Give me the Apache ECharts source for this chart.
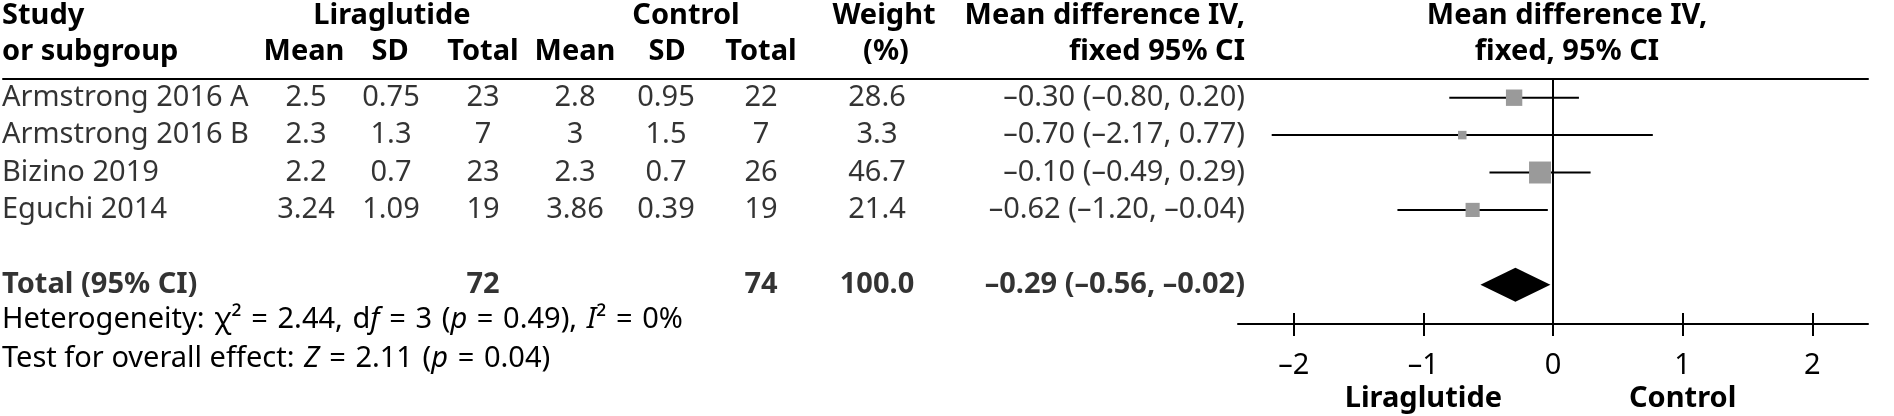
<!DOCTYPE html>
<html>
<head>
<meta charset="utf-8">
<script src="https://cdn.jsdelivr.net/npm/echarts@6/dist/echarts.min.js"></script>
<style>
html,body{margin:0;padding:0;background:#ffffff;}
#chart{width:1894px;height:416px;}
</style>
</head>
<body>
<div id="chart"></div>
<script>
// ---------------- DATA ----------------
const studies   = ['Armstrong 2016 A', 'Armstrong 2016 B', 'Bizino 2019', 'Eguchi 2014'];
const liraMean  = [2.5, 2.3, 2.2, 3.24];
const liraSD    = [0.75, 1.3, 0.7, 1.09];
const liraN     = [23, 7, 23, 19];
const ctrlMean  = [2.8, 3, 2.3, 3.86];
const ctrlSD    = [0.95, 1.5, 0.7, 0.39];
const ctrlN     = [22, 7, 26, 19];
const weights   = [28.6, 3.3, 46.7, 21.4];
const meanDiff  = [-0.30, -0.70, -0.10, -0.62];
const ciLow     = [-0.80, -2.17, -0.49, -1.20];
const ciHigh    = [0.20, 0.77, 0.29, -0.04];
const totalName = 'Total (95% CI)';
const totalLiraN = 72;
const totalCtrlN = 74;
const totalWeight = 100.0;
const pooledMD  = -0.29;
const pooledLow = -0.56;
const pooledHigh = -0.02;
const xTicks    = [-2, -1, 0, 1, 2];
const favourTicks = [-1, 1];
const favourLabels = ['Liraglutide', 'Control'];
const hetChi2 = 2.44, hetDf = 3, hetP = 0.49, hetI2 = 0;
const overallZ = 2.11, overallP = 0.04;

// ---------------- LAYOUT / STYLE ----------------
const FONT = '"Noto Sans", "DejaVu Sans", sans-serif';
const FS = 29;
const INK = '#000000';
const SQUARE = '#9a9a9a';
const TOP = 79, AXIS_Y = 324;
const Y_MIN = -0.5, Y_MAX = 6.05;
const TOTAL_ROW = 5;
const PLOT_L = 1238, PLOT_R = 1868;
const X_MIN = -2.43, X_MAX = 2.43;
const TABLE_L = 3, TABLE_R = 1262;
const COL = { study: 2, liraMean: 306, liraSD: 391, liraN: 483, ctrlMean: 575, ctrlSD: 666, ctrlN: 761, weight: 877, ci: 1245 };
const HEAD1_Y = 16, HEAD2_Y = 52, HET_Y = 320, TEST_Y = 359;
const FOREST_HEAD_X = 1567;
const SP = '\u2004'; // slightly wider word space used in the footnotes

const dash = v => (v < 0 ? '\u2013' : '') + Math.abs(v);
const fmt2 = v => (v < 0 ? '\u2013' : '') + Math.abs(v).toFixed(2);
const ciText = (m, lo, hi) => fmt2(m) + ' (' + fmt2(lo) + ', ' + fmt2(hi) + ')';

const studyRows = studies.map((_, i) => i);

function textSeries(x, align, texts, rows, bold) {
  return {
    type: 'scatter', xAxisIndex: 0, yAxisIndex: 0, silent: true,
    symbolSize: 1, itemStyle: { color: 'rgba(0,0,0,0)' }, clip: false,
    data: texts.map((t, i) => ({ name: String(t), value: [x, rows[i]] })),
    label: {
      show: true, position: 'inside', formatter: '{b}', align: align, verticalAlign: 'middle',
      color: INK, fontFamily: FONT, fontSize: FS, fontWeight: bold ? 'bold' : 'normal'
    },
    animation: false
  };
}

const series = [
  textSeries(COL.study, 'left', studies, studyRows, false),
  textSeries(COL.liraMean, 'center', liraMean, studyRows, false),
  textSeries(COL.liraSD, 'center', liraSD, studyRows, false),
  textSeries(COL.liraN, 'center', liraN, studyRows, false),
  textSeries(COL.ctrlMean, 'center', ctrlMean, studyRows, false),
  textSeries(COL.ctrlSD, 'center', ctrlSD, studyRows, false),
  textSeries(COL.ctrlN, 'center', ctrlN, studyRows, false),
  textSeries(COL.weight, 'center', weights.map(w => w.toFixed(1)), studyRows, false),
  textSeries(COL.ci, 'right', meanDiff.map((m, i) => ciText(m, ciLow[i], ciHigh[i])), studyRows, false),
  textSeries(COL.study, 'left', [totalName], [TOTAL_ROW], true),
  textSeries(COL.liraN, 'center', [totalLiraN], [TOTAL_ROW], true),
  textSeries(COL.ctrlN, 'center', [totalCtrlN], [TOTAL_ROW], true),
  textSeries(COL.weight, 'center', [totalWeight.toFixed(1)], [TOTAL_ROW], true),
  textSeries(COL.ci, 'right', [ciText(pooledMD, pooledLow, pooledHigh)], [TOTAL_ROW], true),
  // study CIs and weight squares
  {
    type: 'custom', xAxisIndex: 1, yAxisIndex: 1, z: 2, silent: true, animation: false,
    data: meanDiff.map((m, i) => [m, ciLow[i], ciHigh[i], weights[i], i]),
    encode: { x: [0, 1, 2], y: 4 },
    renderItem: function (params, api) {
      const row = api.value(4);
      const pLo = api.coord([api.value(1), row]);
      const pHi = api.coord([api.value(2), row]);
      const pM = api.coord([api.value(0), row]);
      const s = 7.5 + 0.31 * api.value(3);
      return {
        type: 'group', children: [
          { type: 'line', shape: { x1: pLo[0], y1: pLo[1], x2: pHi[0], y2: pHi[1] }, style: { stroke: INK, lineWidth: 2 } },
          { type: 'rect', shape: { x: pM[0] - s / 2, y: pM[1] - s / 2, width: s, height: s }, style: { fill: SQUARE } }
        ]
      };
    }
  },
  // pooled diamond + line of no effect
  {
    type: 'custom', xAxisIndex: 1, yAxisIndex: 1, z: 3, silent: true, animation: false,
    data: [[pooledMD, pooledLow, pooledHigh, TOTAL_ROW]],
    encode: { x: [0, 1, 2], y: 3 },
    renderItem: function (params, api) {
      const row = api.value(3);
      const pL = api.coord([api.value(1), row]);
      const pR = api.coord([api.value(2), row]);
      const pM = api.coord([api.value(0), row]);
      const h = 17;
      return {
        type: 'polygon',
        shape: { points: [[pL[0], pL[1]], [pM[0], pM[1] - h], [pR[0], pR[1]], [pM[0], pM[1] + h]] },
        style: { fill: INK }
      };
    },
    markLine: {
      silent: true, symbol: 'none', animation: false,
      label: { show: false },
      lineStyle: { color: INK, width: 2, type: 'solid' },
      data: [{ xAxis: 0 }]
    }
  }
];

const hidden = { show: false };

const option = {
  backgroundColor: '#ffffff',
  animation: false,
  grid: [
    { left: TABLE_L, width: TABLE_R - TABLE_L, top: TOP, height: AXIS_Y - TOP, containLabel: false, outerBoundsMode: 'none' },
    { left: PLOT_L, width: PLOT_R - PLOT_L, top: TOP, height: AXIS_Y - TOP, containLabel: false, outerBoundsMode: 'none' }
  ],
  xAxis: [
    { // table columns + header rule
      gridIndex: 0, type: 'value', min: TABLE_L, max: TABLE_R, position: 'top',
      axisLine: { show: true, onZero: false, lineStyle: { color: INK, width: 2 } },
      axisTick: hidden, axisLabel: hidden, splitLine: hidden
    },
    { // main forest axis
      gridIndex: 1, type: 'value', min: X_MIN, max: X_MAX, position: 'bottom',
      axisLine: { show: true, onZero: false, lineStyle: { color: INK, width: 2 } },
      axisTick: { show: true, customValues: xTicks, length: 12, lineStyle: { color: INK, width: 2 } },
      axisLabel: { show: true, customValues: xTicks, formatter: v => dash(v), margin: 27,
        color: INK, fontFamily: FONT, fontSize: FS },
      splitLine: hidden
    },
    { // inward tick halves
      gridIndex: 1, type: 'value', min: X_MIN, max: X_MAX, position: 'bottom',
      axisLine: { show: false, onZero: false },
      axisTick: { show: true, inside: true, customValues: xTicks, length: 11, lineStyle: { color: INK, width: 2 } },
      axisLabel: hidden, splitLine: hidden
    },
    { // favours labels
      gridIndex: 1, type: 'value', min: X_MIN, max: X_MAX, position: 'bottom',
      axisLine: { show: false, onZero: false }, axisTick: hidden,
      axisLabel: { show: true, customValues: favourTicks, formatter: v => (v < 0 ? favourLabels[0] : favourLabels[1]),
        margin: 60, color: INK, fontFamily: FONT, fontSize: FS, fontWeight: 'bold' },
      splitLine: hidden
    },
    { // header rule above forest panel
      gridIndex: 1, type: 'value', min: X_MIN, max: X_MAX, position: 'top',
      axisLine: { show: true, onZero: false, lineStyle: { color: INK, width: 2 } },
      axisTick: hidden, axisLabel: hidden, splitLine: hidden
    }
  ],
  yAxis: [
    { gridIndex: 0, type: 'value', min: Y_MIN, max: Y_MAX, inverse: true, show: false },
    { gridIndex: 1, type: 'value', min: Y_MIN, max: Y_MAX, inverse: true, show: false }
  ],
  series: series,
  graphic: []
};

function txt(text, x, y, align, bold) {
  return { type: 'text', x: x, y: y, silent: true,
    style: { text: text, fill: INK, fontFamily: FONT, fontSize: FS, fontWeight: bold ? 'bold' : 'normal',
      align: align, verticalAlign: 'middle' } };
}
const G = option.graphic;
G.push(txt('Study', COL.study, HEAD1_Y, 'left', true));
G.push(txt('or subgroup', COL.study, HEAD2_Y, 'left', true));
G.push(txt('Liraglutide', 392, HEAD1_Y, 'center', true));
G.push(txt('Control', 686, HEAD1_Y, 'center', true));
G.push(txt('Weight', 884, HEAD1_Y, 'center', true));
G.push(txt('(%)', 886, HEAD2_Y, 'center', true));
G.push(txt('Mean', 304, HEAD2_Y, 'center', true));
G.push(txt('SD', 390, HEAD2_Y, 'center', true));
G.push(txt('Total', 483, HEAD2_Y, 'center', true));
G.push(txt('Mean', 575, HEAD2_Y, 'center', true));
G.push(txt('SD', 667, HEAD2_Y, 'center', true));
G.push(txt('Total', 761, HEAD2_Y, 'center', true));
G.push(txt('Mean difference IV,', COL.ci, HEAD1_Y, 'right', true));
G.push(txt('fixed 95% CI', COL.ci, HEAD2_Y, 'right', true));
G.push(txt('Mean difference IV,', FOREST_HEAD_X, HEAD1_Y, 'center', true));
G.push(txt('fixed, 95% CI', FOREST_HEAD_X, HEAD2_Y, 'center', true));

const richBase = { fill: INK, fontFamily: FONT, fontSize: FS };
const rich = { n: Object.assign({}, richBase), i: Object.assign({ fontStyle: 'italic' }, richBase) };
const hetText = '{n|Heterogeneity:' + SP + '\u03c7\u00b2' + SP + '=' + SP + hetChi2.toFixed(2) + ',' + SP + 'd}{i|f}{n|' + SP + '=' + SP + hetDf + SP + '(}{i|p}{n|' + SP + '=' + SP + hetP.toFixed(2) + '),' + SP + '}{i|I}{n|\u00b2' + SP + '=' + SP + hetI2 + '%}';
const testText = '{n|Test for overall effect:' + SP + '}{i|Z}{n|' + SP + '=' + SP + overallZ.toFixed(2) + SP + '(}{i|p}{n|' + SP + '=' + SP + overallP.toFixed(2) + ')}';
G.push({ type: 'text', x: COL.study, y: HET_Y, silent: true,
  style: { text: hetText, rich: rich, fill: INK, fontFamily: FONT, fontSize: FS, align: 'left', verticalAlign: 'middle' } });
G.push({ type: 'text', x: COL.study, y: TEST_Y, silent: true,
  style: { text: testText, rich: rich, fill: INK, fontFamily: FONT, fontSize: FS, align: 'left', verticalAlign: 'middle' } });

const chart = echarts.init(document.getElementById('chart'), null, { renderer: 'canvas' });
chart.setOption(option);
</script>
</body>
</html>
